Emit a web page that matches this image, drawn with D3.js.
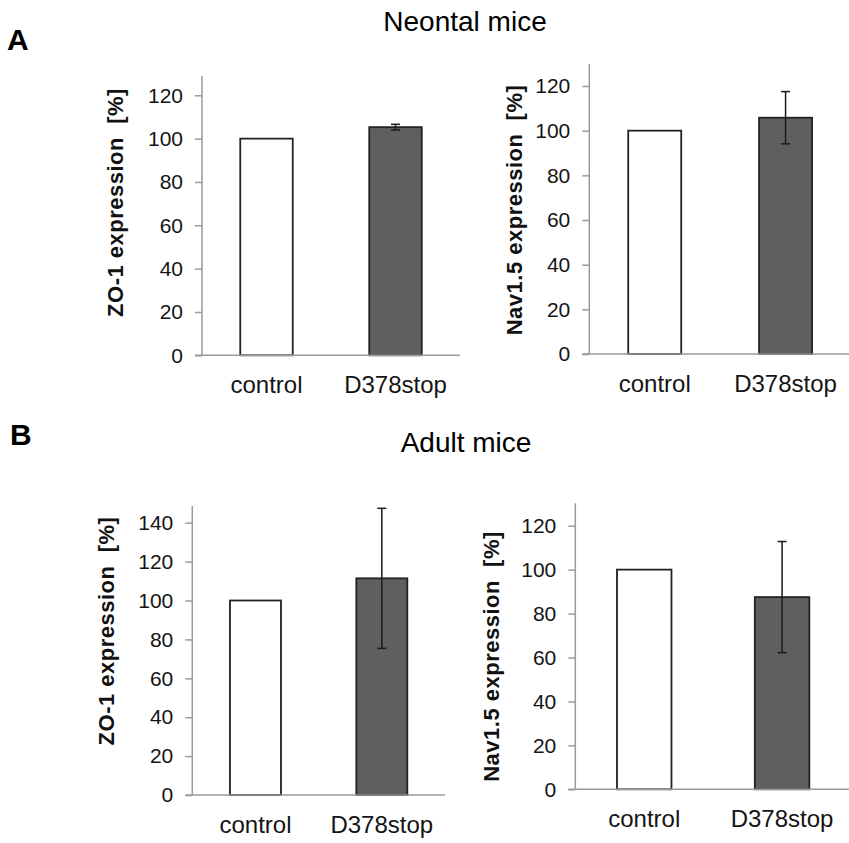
<!DOCTYPE html>
<html>
<head>
<meta charset="utf-8">
<script src="https://cdn.jsdelivr.net/npm/d3@7"></script>
<style>
  html, body { margin: 0; padding: 0; background: #fff; }
  svg { display: block; font-family: "Liberation Sans", Arial, sans-serif; }
</style>
</head>
<body>
<svg id="chart" width="849" height="843"></svg>
<script>
// ---------------- data ----------------
const categories = ["control", "D378stop"];
const sectionTitles = ["Neontal mice", "Adult mice"];
const sectionLetters = ["A", "B"];

const neoZO1Values = [100, 105.3];
const neoZO1Errors = [null, 1.3];
const neoNavValues = [100, 105.8];
const neoNavErrors = [null, 11.7];
const adultZO1Values = [100, 111.4];
const adultZO1Errors = [null, 36];
const adultNavValues = [100, 87.5];
const adultNavErrors = [null, 25.3];

const ticks120 = [0, 20, 40, 60, 80, 100, 120];
const ticks140 = [0, 20, 40, 60, 80, 100, 120, 140];

const yLabelZO1 = "ZO-1 expression  [%]";
const yLabelNav = "Nav1.5 expression  [%]";

// ---------------- layout ----------------
const panels = [
  { values: neoZO1Values, errors: neoZO1Errors, ticks: ticks120, label: yLabelZO1,
    axisX: 202, xEnd: 460, y0: 355.3, yTopVal: 95.3, axisTop: 76, barW: 52.5,
    titleX: 123, titleY: 202.5 },
  { values: neoNavValues, errors: neoNavErrors, ticks: ticks120, label: yLabelNav,
    axisX: 589.3, xEnd: 851, y0: 354, yTopVal: 86, axisTop: 64, barW: 53,
    titleX: 522, titleY: 210 },
  { values: adultZO1Values, errors: adultZO1Errors, ticks: ticks140, label: yLabelZO1,
    axisX: 192.3, xEnd: 445, y0: 795, yTopVal: 522.7, axisTop: 506, barW: 51,
    titleX: 114, titleY: 631 },
  { values: adultNavValues, errors: adultNavErrors, ticks: ticks120, label: yLabelNav,
    axisX: 575.3, xEnd: 851, y0: 789.3, yTopVal: 525.7, axisTop: 503.3, barW: 54.5,
    titleX: 499, titleY: 656.5 }
];

const svg = d3.select("#chart");
const textColor = "#141414";
const axisColor = "#9a9a9a";

// section letters and titles
const sectionLayout = [
  { letterX: 7, letterY: 50, titleX: 465, titleY: 31 },
  { letterX: 10, letterY: 445, titleX: 466, titleY: 452 }
];
sectionLayout.forEach((s, i) => {
  svg.append("text").attr("x", s.letterX).attr("y", s.letterY)
    .attr("font-size", 30).attr("font-weight", "bold").attr("fill", "#000")
    .text(sectionLetters[i]);
  svg.append("text").attr("x", s.titleX).attr("y", s.titleY)
    .attr("font-size", 28).attr("text-anchor", "middle").attr("fill", "#000")
    .text(sectionTitles[i]);
});

panels.forEach(p => {
  const maxTick = p.ticks[p.ticks.length - 1];
  const y = d3.scaleLinear().domain([0, maxTick]).range([p.y0, p.yTopVal]);
  const x = d3.scaleBand().domain(categories).range([p.axisX, p.xEnd]).padding(0);
  const g = svg.append("g");

  // y axis
  const yAxis = d3.axisLeft(y).tickValues(p.ticks).tickSize(7).tickPadding(12)
    .tickFormat(d3.format("d"));
  const ga = g.append("g").attr("transform", `translate(${p.axisX},0)`).call(yAxis);
  ga.select(".domain").remove();
  ga.selectAll(".tick line").attr("stroke", axisColor).attr("stroke-width", 1.5);
  ga.selectAll(".tick text").attr("font-size", 21).attr("fill", textColor)
    .attr("font-family", "'Liberation Sans', Arial, sans-serif");
  // vertical axis line (extends above the top tick)
  g.append("line").attr("x1", p.axisX).attr("x2", p.axisX)
    .attr("y1", p.axisTop).attr("y2", p.y0)
    .attr("stroke", axisColor).attr("stroke-width", 1.5);

  // bars
  g.selectAll("rect.bar").data(categories).enter().append("rect")
    .attr("class", "bar")
    .attr("x", d => x(d) + x.bandwidth() / 2 - p.barW / 2)
    .attr("width", p.barW)
    .attr("y", (d, i) => y(p.values[i]))
    .attr("height", (d, i) => y(0) - y(p.values[i]))
    .attr("fill", (d, i) => i === 0 ? "#ffffff" : "#5f5f5f")
    .attr("stroke", "#222")
    .attr("stroke-width", 1.8);

  // baseline (x axis)
  g.append("line").attr("x1", p.axisX - 7).attr("x2", p.xEnd)
    .attr("y1", p.y0).attr("y2", p.y0)
    .attr("stroke", axisColor).attr("stroke-width", 1.5);

  // error bars
  categories.forEach((c, i) => {
    const e = p.errors[i];
    if (e == null) return;
    const cx = x(c) + x.bandwidth() / 2;
    const hi = y(p.values[i] + e), lo = y(p.values[i] - e);
    g.append("line").attr("x1", cx).attr("x2", cx).attr("y1", hi).attr("y2", lo)
      .attr("stroke", "#1a1a1a").attr("stroke-width", 1.5);
    [hi, lo].forEach(yy => g.append("line")
      .attr("x1", cx - 4.5).attr("x2", cx + 4.5).attr("y1", yy).attr("y2", yy)
      .attr("stroke", "#1a1a1a").attr("stroke-width", 1.5));
  });

  // category labels
  g.selectAll("text.cat").data(categories).enter().append("text")
    .attr("class", "cat")
    .attr("x", d => x(d) + x.bandwidth() / 2)
    .attr("y", p.y0 + 38)
    .attr("text-anchor", "middle")
    .attr("font-size", 24).attr("fill", textColor)
    .text(d => d);

  // y axis title
  g.append("text")
    .attr("transform", `translate(${p.titleX},${p.titleY}) rotate(-90)`)
    .attr("text-anchor", "middle")
    .attr("font-size", 22).attr("font-weight", "bold").attr("fill", "#111")
    .attr("letter-spacing", 0.5)
    .style("white-space", "pre")
    .text(p.label);
});
</script>
</body>
</html>
